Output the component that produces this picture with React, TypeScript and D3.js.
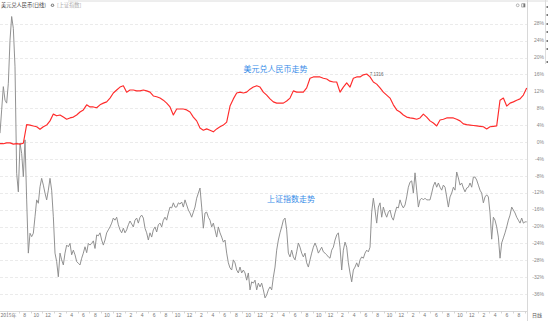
import React from 'react';
import * as d3 from 'd3';

// Time span covered by the chart (left edge to right edge)
const START = new Date(2015, 2, 27);
const END = new Date(2022, 8, 11);

// 美元兑人民币 — % change vs. first bar (evenly spaced samples)
const USD_CNY = [
  -0.4, -0.4, -0.2, -0.2, -0.5, -0.4, -0.5, -0.3, 4.1, 4.0,
  3.8, 3.6, 3.0, 3.6, 4.0, 5.0, 6.6, 6.2, 6.4, 5.9,
  5.4, 5.7, 5.9, 6.4, 7.1, 7.6, 8.8, 8.3, 8.3, 8.1,
  8.8, 9.2, 9.5, 10.4, 11.6, 12.3, 13.0, 13.3, 11.8, 12.3,
  12.3, 12.1, 12.1, 12.3, 12.1, 11.8, 10.9, 10.7, 10.4, 9.9,
  9.2, 8.3, 6.4, 7.8, 7.8, 7.8, 7.6, 7.1, 5.9, 5.0,
  3.3, 2.8, 3.1, 2.8, 2.4, 3.1, 3.6, 4.0, 4.7, 8.5,
  10.2, 11.6, 11.8, 11.6, 11.8, 12.5, 13.0, 13.3, 13.0, 11.8,
  11.1, 10.2, 9.5, 9.2, 9.2, 9.2, 9.7, 10.4, 12.1, 11.8,
  11.8, 11.8, 12.8, 15.1, 15.4, 15.4, 15.4, 15.1, 14.9, 14.4,
  14.2, 14.2, 11.8, 13.0, 14.0, 13.0, 15.1, 15.4, 15.4, 15.9,
  16.1, 15.4, 14.2, 13.7, 12.8, 11.8, 11.1, 10.4, 8.8, 7.6,
  7.1, 6.4, 5.9, 5.7, 5.6, 5.4, 5.7, 6.6, 5.9, 5.0,
  4.5, 3.8, 5.2, 5.4, 5.7, 5.7, 5.7, 5.4, 5.0, 4.3,
  4.1, 4.0, 3.9, 3.8, 3.7, 3.6, 3.1, 3.6, 3.7, 3.8,
  9.9, 10.4, 8.5, 9.2, 9.5, 9.9, 10.2, 11.1, 12.8,
];

// 上证指数 — % change vs. first bar (evenly spaced samples)
const SSE = [
  2.1, 7.6, 13.1, 9.9, 9.2, 13.9, 24.1, 29.7, 26.9, 17.8,
  -7.4, -11.8, -0.3, -2.7, -8.2, 0.5, -13.7, -26.3, -21.6, -22.4,
  -21.6, -17.7, -13.7, -14.5, -10.6, -8.6, -10.2, -12.1, -13.7, -11.4,
  -8.6, -11.4, -17.7, -26.3, -28.3, -31.9, -26.3, -27.9, -29.1, -26.3,
  -24.4, -24.8, -24.0, -26.7, -25.6, -26.7, -28.3, -28.7, -29.1, -27.5,
  -26.3, -24.8, -26.2, -24.0, -24.4, -24.0, -23.4, -25.2, -22.0, -22.2,
  -21.5, -23.2, -24.4, -23.2, -21.5, -20.8, -20.1, -19.2, -18.0, -18.5,
  -17.8, -19.6, -20.8, -21.5, -20.4, -21.5, -20.8, -19.6, -18.7, -19.4,
  -20.1, -18.5, -18.0, -19.2, -17.8, -17.3, -18.0, -20.4, -21.5, -23.2,
  -21.5, -22.5, -20.8, -20.1, -21.3, -19.6, -19.2, -20.1, -18.5, -17.8,
  -18.5, -16.8, -15.4, -15.6, -14.4, -15.4, -15.4, -14.4, -14.7, -14.2,
  -15.4, -13.7, -14.9, -16.1, -16.8, -17.8, -16.6, -15.4, -13.3, -12.1,
  -10.9, -15.4, -20.4, -16.8, -16.6, -17.8, -18.5, -20.1, -19.2, -20.8,
  -22.5, -20.1, -21.5, -22.5, -23.7, -23.2, -26.3, -28.6, -29.8, -30.3,
  -27.9, -28.6, -30.3, -31.0, -29.6, -31.0, -30.3, -31.0, -32.7, -31.0,
  -35.0, -33.1, -33.4, -32.7, -35.0, -33.4, -34.3, -33.4, -35.0, -36.9,
  -36.2, -35.0, -34.3, -35.0, -32.0, -29.6, -25.6, -23.2, -21.5, -20.1,
  -18.5, -18.0, -20.8, -26.3, -27.2, -25.6, -27.2, -27.9, -26.0, -23.9,
  -24.9, -26.3, -27.2, -26.3, -28.6, -29.6, -27.9, -26.3, -24.9, -23.9,
  -24.9, -26.3, -25.6, -24.9, -26.0, -26.3, -26.7, -27.2, -27.5, -25.6,
  -24.9, -23.2, -22.0, -21.5, -24.9, -30.3, -25.6, -23.7, -24.9, -28.6,
  -31.0, -33.1, -30.3, -29.6, -28.6, -29.6, -27.9, -27.2, -27.5, -26.3,
  -25.6, -26.0, -24.9, -16.6, -13.3, -16.1, -19.2, -15.4, -14.4, -17.8,
  -15.4, -16.8, -17.8, -16.6, -16.1, -17.8, -18.5, -16.8, -15.4, -15.6,
  -13.7, -14.9, -15.6, -14.9, -13.0, -10.7, -9.5, -9.2, -12.1, -7.3,
  -11.4, -15.4, -13.7, -13.3, -13.7, -13.3, -13.7, -13.7, -13.7, -12.1,
  -10.4, -9.5, -10.7, -9.7, -10.7, -11.4, -10.2, -10.7, -13.0, -15.4,
  -13.0, -12.1, -10.7, -11.4, -7.1, -8.5, -10.2, -9.7, -10.9, -11.8,
  -10.9, -10.7, -9.7, -10.7, -8.3, -8.3, -9.0, -10.2, -11.4, -12.1,
  -14.4, -13.0, -12.5, -13.0, -16.8, -23.0, -17.8, -18.5, -20.1, -22.5,
  -27.5, -23.9, -22.7, -21.5, -20.1, -18.5, -17.3, -15.4, -16.1, -16.8,
  -17.8, -18.5, -19.2, -18.0, -19.2, -18.9, -18.9,
];

const Y_TICKS = [28, 24, 20, 16, 12, 8, 4, 0, -4, -8, -12, -16, -20, -24, -28, -32, -36];
const TITLE = '美元兑人民币(日线)';
const COMPARE = '[上证指数]';
const LABEL_FX = '美元兑人民币走势';
const LABEL_SSE = '上证指数走势';
const FX_MAX_TEXT = '7.1316';
const PERIOD = '日线';

const LATIN = '"Liberation Sans", Arial, "Noto Sans CJK SC", sans-serif';
const CJK = '"Noto Sans CJK SC", "Liberation Sans", sans-serif';

export default function App() {
  const W = 548;
  const H = 321;
  const PLOT_R = 527.5;
  const AXIS_B = 311.5;

  const x = d3.scaleTime().domain([START, END]).range([0, 526.7]);
  const y = d3.scaleLinear().domain([28, -36]).range([23.7, 294.1]);

  const dateAt = (i: number, n: number) =>
    new Date(+START + (i * (+END - +START)) / (n - 1));

  const fxPts: [Date, number][] = USD_CNY.map((v, i) => [dateAt(i, USD_CNY.length), v]);
  const ssePts: [Date, number][] = SSE.map((v, i) => [dateAt(i, SSE.length), v]);

  const line = d3
    .line<[Date, number]>()
    .x((d) => x(d[0]))
    .y((d) => y(d[1]));

  const months = d3.timeMonth.range(START, END);
  const evenMonths = months.filter((d) => d.getMonth() % 2 === 1);
  const oddMonths = months.filter((d) => d.getMonth() % 2 === 0);
  const firstX = x(evenMonths[0]);
  const xLabels = evenMonths
    .map((d, i) => ({
      d,
      i,
      text: i === 0 ? `${d.getFullYear()}年` : `${d.getMonth() + 1}`,
    }))
    .filter((t) => t.i === 0 || x(t.d) > firstX + 20);

  const maxIdx = d3.maxIndex(USD_CNY);
  const maxPt = fxPts[maxIdx];

  return (
    <svg
      width={W}
      height={H}
      style={{ position: 'fixed', left: 0, top: 0, background: '#fff' }}
    >
      <defs>
        <clipPath id="plot">
          <rect x={0} y={0} width={PLOT_R} height={AXIS_B} />
        </clipPath>
      </defs>
      <rect x={0} y={0} width={W} height={H} fill="#fff" />

      {/* top border */}
      <line x1={68} x2={W} y1={1} y2={1} stroke="#dcdcdc" strokeWidth={1} />

      {/* grid */}
      {Y_TICKS.map((t) => (
        <line
          key={t}
          x1={0}
          x2={PLOT_R}
          y1={Math.round(y(t)) + 0.5}
          y2={Math.round(y(t)) + 0.5}
          stroke="#e6e6e6"
          strokeWidth={0.8}
          strokeDasharray="3,2"
        />
      ))}

      {/* y labels */}
      {Y_TICKS.map((t) => (
        <text
          key={'l' + t}
          x={544}
          y={y(t)}
          dy="0.35em"
          textAnchor="end"
          fontSize={5}
          fill="#888"
          fontFamily={LATIN}
        >
          {`${t}%`}
        </text>
      ))}

      {/* axes */}
      <line x1={PLOT_R} x2={PLOT_R} y1={0} y2={H} stroke="#d8d8d8" strokeWidth={1} />
      <line x1={0} x2={PLOT_R} y1={AXIS_B} y2={AXIS_B} stroke="#d8d8d8" strokeWidth={1} />
      {oddMonths.map((d, i) => (
        <line
          key={'t' + i}
          x1={Math.round(x(d)) + 0.5}
          x2={Math.round(x(d)) + 0.5}
          y1={AXIS_B}
          y2={AXIS_B + 2}
          stroke="#ccc"
          strokeWidth={0.8}
        />
      ))}
      {xLabels.map((t) => (
        <text
          key={'x' + t.i}
          x={t.i === 0 ? 0.5 : x(t.d)}
          y={316.5}
          textAnchor={t.i === 0 ? 'start' : 'middle'}
          fontSize={5}
          fill="#777"
          fontFamily={t.i === 0 ? CJK : LATIN}
        >
          {t.text}
        </text>
      ))}
      <text x={537} y={317} textAnchor="middle" fontSize={5} fill="#555" fontFamily={CJK}>
        {PERIOD}
      </text>

      {/* series */}
      <g clipPath="url(#plot)">
        <path d={line(ssePts) || ''} fill="none" stroke="#8c8c8c" strokeWidth={0.95} strokeLinejoin="round" />
        <path d={line(fxPts) || ''} fill="none" stroke="#ff2b2b" strokeWidth={1.15} strokeLinejoin="round" />
      </g>

      {/* max marker */}
      <text
        x={x(maxPt[0]) + 3}
        y={y(maxPt[1]) + 2}
        fontSize={4.5}
        fill="#666"
        fontFamily={LATIN}
      >
        {FX_MAX_TEXT}
      </text>

      {/* annotations */}
      <text x={275.5} y={71.5} textAnchor="middle" fontSize={8} fill="#3a8ee8" fontFamily={CJK}>
        {LABEL_FX}
      </text>
      <text x={291} y={202} textAnchor="middle" fontSize={8} fill="#3a8ee8" fontFamily={CJK}>
        {LABEL_SSE}
      </text>

      {/* header */}
      <text x={1} y={7} fontSize={5.2} fill="#444" fontFamily={CJK}>
        {TITLE}
      </text>
      <circle cx={52.5} cy={5.2} r={1.7} fill="#888" />
      <circle cx={52.5} cy={5.2} r={0.7} fill="#fff" />
      <text x={57} y={7} fontSize={5.2} fill="#aaa" fontFamily={CJK}>
        {COMPARE}
      </text>

      {/* top-right icons */}
      <circle cx={517.7} cy={5.3} r={1.4} fill="none" stroke="#888" strokeWidth={0.6} />
      <rect x={521.8} y={3.8} width={3.2} height={3.2} fill="none" stroke="#777" strokeWidth={0.6} />
      <rect x={523.4} y={3.8} width={1.6} height={3.2} fill="#777" />

      {/* right-side panel edge */}
      <line x1={545.5} x2={545.5} y1={0} y2={64} stroke="#ddd" strokeWidth={1} />
      {[7, 15, 24, 32, 41, 49, 62].map((v) => (
        <rect key={'m' + v} x={546.5} y={v - 1} width={1.5} height={2} fill="#777" />
      ))}
    </svg>
  );
}
